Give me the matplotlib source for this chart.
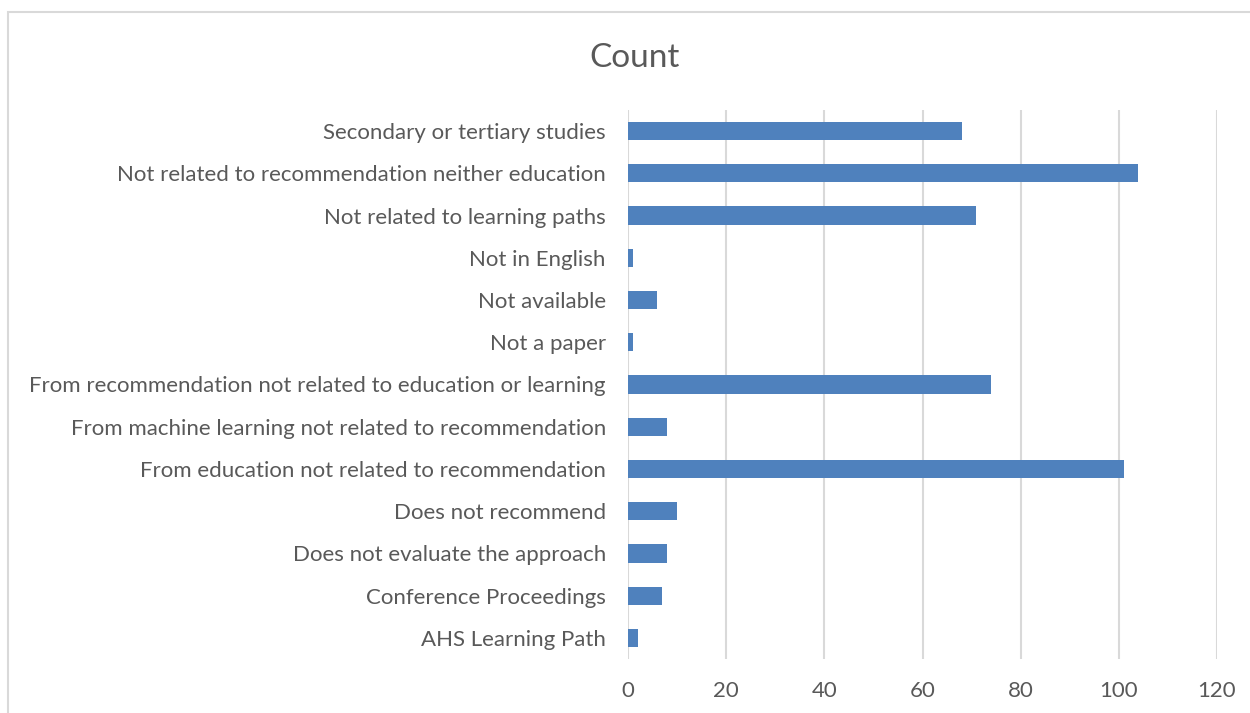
import matplotlib
matplotlib.use('Agg')
import matplotlib.pyplot as plt
from matplotlib.patches import Rectangle

plt.rcParams['font.family'] = ['Lato', 'DejaVu Sans']

categories = [
    'AHS Learning Path',
    'Conference Proceedings',
    'Does not evaluate the approach',
    'Does not recommend',
    'From education not related to recommendation',
    'From machine learning not related to recommendation',
    'From recommendation not related to education or learning',
    'Not a paper',
    'Not available',
    'Not in English',
    'Not related to learning paths',
    'Not related to recommendation neither education',
    'Secondary or tertiary studies',
]
counts = [2, 7, 8, 10, 101, 8, 74, 1, 6, 1, 71, 104, 68]
x_ticks = [0, 20, 40, 60, 80, 100, 120]

text_color = '#595959'
bar_color = '#4F81BD'
grid_color = '#D9D9D9'

fig = plt.figure(figsize=(12.5, 7.13), dpi=100)
# chart frame (light gray border like the Excel chart area)
fig.patches.append(Rectangle((8 / 1250, -0.1), 1.2, (713 - 12) / 713 + 0.1,
                             transform=fig.transFigure, fill=False,
                             edgecolor='#D9D9D9', linewidth=1.5))

ax = fig.add_axes([628 / 1250, 54 / 713, 589 / 1250, 549 / 713])
y = range(len(categories))
ax.barh(y, counts, height=0.43, color=bar_color, zorder=3)

ax.set_xlim(0, 120)
ax.set_ylim(-0.5, len(categories) - 0.5)
ax.set_xticks(x_ticks)
ax.set_yticks(list(y))
ax.set_yticklabels(categories)
ax.xaxis.grid(True, color=grid_color, linewidth=1.5, zorder=0)
for s in ax.spines.values():
    s.set_visible(False)
ax.tick_params(axis='both', length=0, labelsize=16, colors=text_color)
ax.tick_params(axis='x', pad=16)
ax.tick_params(axis='y', pad=16)

fig.text(635 / 1250, 1 - 58 / 713, 'Count', ha='center', va='center',
         fontsize=24, color=text_color)

fig.savefig('out.png', dpi=100)
